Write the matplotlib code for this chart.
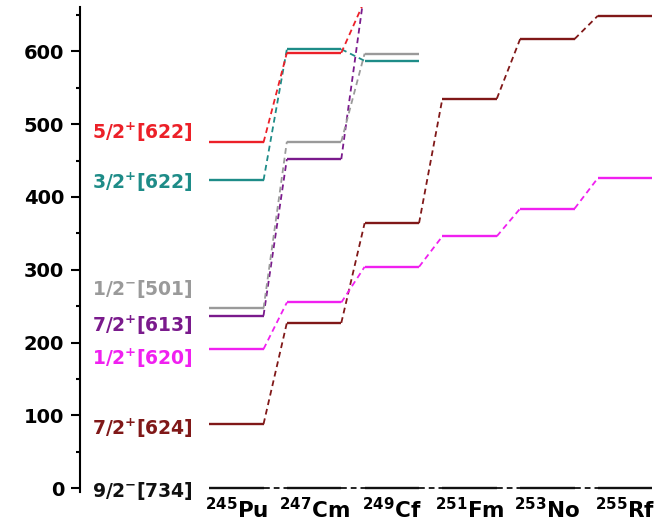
import matplotlib
matplotlib.use("Agg")
import matplotlib.pyplot as plt
from matplotlib.ticker import MultipleLocator

plt.rcParams['font.family'] = 'DejaVu Sans'
plt.rcParams['mathtext.fontset'] = 'dejavusans'
plt.rcParams['mathtext.default'] = 'bf'

# nuclei along the chain
mass = [245, 247, 249, 251, 253, 255]
elements = ["Pu", "Cm", "Cf", "Fm", "No", "Rf"]

# Nilsson states and their energies (keV); shorter lists stop earlier in the chain
state_labels = ["9/2$^{-}$[734]", "7/2$^{+}$[624]", "1/2$^{+}$[620]", "7/2$^{+}$[613]",
                "1/2$^{-}$[501]", "3/2$^{+}$[622]", "5/2$^{+}$[622]"]
e_92m734 = [0, 0, 0, 0, 0, 0]
e_72p624 = [88, 227, 364, 535, 617, 649]
e_12p620 = [191, 255, 304, 346, 384, 426]
e_72p613 = [237, 452, 685]
e_12m501 = [247, 476, 597]
e_32p622 = [423, 603, 587]
e_52p622 = [475, 598, 670]
energies = [e_92m734, e_72p624, e_12p620, e_72p613, e_12m501, e_32p622, e_52p622]

colors = ["#111111", "#801818", "#f020f0", "#7a1a8c", "#9a9a9a", "#1e8c88", "#ec2028"]
label_y = [-12, 73, 169, 215, 265, 411, 480]

half = 0.35

fig = plt.figure(figsize=(6.57, 5.25), dpi=100)
ax = fig.add_axes([0.1218, 0.0634, 0.8782, 0.9233])

for lab, en, col, ly in zip(state_labels, energies, colors, label_y):
    for i, e in enumerate(en):
        ax.plot([i - half, i + half], [e, e], color=col, lw=1.7, solid_capstyle='butt')
        if i + 1 < len(en):
            ax.plot([i + half, i + 1 - half], [e, en[i + 1]], color=col, lw=1.3,
                    dashes=(3.2, 2.2))
    ax.text(-0.56, ly, lab, color=col, fontsize=13.5, fontweight='bold',
            ha='right', va='baseline')

for i, (m, el) in enumerate(zip(mass, elements)):
    ax.text(i, -41, "$^{%d}$%s" % (m, el), fontsize=15.5, fontweight='bold',
            ha='center', va='baseline', clip_on=False)

ax.set_xlim(-2.01, 5.41)
ax.set_ylim(-5, 661)
ax.yaxis.set_major_locator(MultipleLocator(100))
ax.yaxis.set_minor_locator(MultipleLocator(50))
ax.set_yticks(range(0, 700, 100))
ax.tick_params(axis='y', which='major', length=6.5, width=1.5, labelsize=14, pad=5)
ax.tick_params(axis='y', which='minor', length=3, width=1.5)
for t in ax.get_yticklabels():
    t.set_fontweight('bold')
ax.set_xticks([])
for s in ['top', 'right', 'bottom']:
    ax.spines[s].set_visible(False)
ax.spines['left'].set_linewidth(1.5)

fig.savefig("out.png", dpi=100)
